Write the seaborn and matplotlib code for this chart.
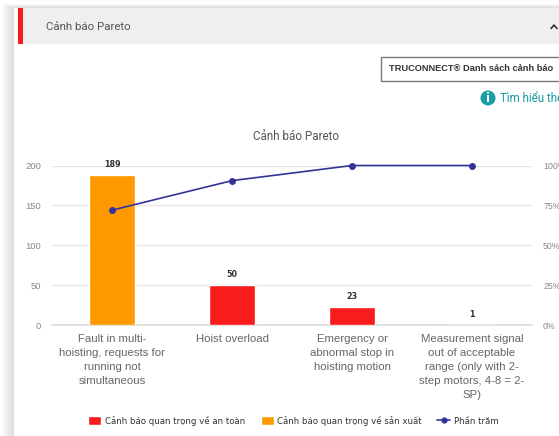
#!/usr/bin/env python3

import pandas as pd
import matplotlib
matplotlib.use("Agg")
import matplotlib.pyplot as plt
from matplotlib.lines import Line2D
from matplotlib.patches import Circle, Rectangle
import seaborn as sns

# =========================================================
# Values
# =========================================================
categories = [
    "Fault in multi-\nhoisting, requests for\nrunning not\nsimultaneous",
    "Hoist overload",
    "Emergency or\nabnormal stop in\nhoisting motion",
    "Measurement signal\nout of acceptable\nrange (only with 2-\nstep motors, 4-8 = 2-\nSP)",
]
severity = [
    "Cảnh báo quan trọng về sản xuất",
    "Cảnh báo quan trọng về an toàn",
    "Cảnh báo quan trọng về an toàn",
    "Cảnh báo quan trọng về an toàn",
]
bar_heights = [188, 50, 22, 0]
count_labels = ["189", "50", "23", "1"]
percent_values = [72, 90.5, 100, 100]

y_ticks = [0, 50, 100, 150, 200]
percent_ticks = [0, 25, 50, 75, 100]

RED = "#fa1c1c"
ORANGE = "#ff9900"
NAVY = "#333399"
TEAL = "#1a9ba5"
W, H = 559, 436

sns.set_theme(style="white")
plt.rcParams["font.family"] = ["Open Sans", "DejaVu Sans"]

df = pd.DataFrame({"alarm": categories, "severity": severity, "count": bar_heights})

fig = plt.figure(figsize=(W / 100, H / 100), dpi=100, facecolor="white")


def box(x, y, w, h, **kw):
    # Page furniture, given in pixels from the top left corner
    fig.add_artist(Rectangle((x / W, 1 - (y + h) / H), w / W, h / H,
                             transform=fig.transFigure, linewidth=kw.pop("lw", 0),
                             zorder=-5, **kw))


# =========================================================
# Card with its soft shadow and the header strip
# =========================================================
for i in range(12):
    box(2 + i, 4 + i / 3, W, H, facecolor="#000000", alpha=0.012)
box(14, 8, W, H, facecolor="white")
box(18, 8, W, 36, facecolor="#efefef")
box(18, 8, 4.5, 36, facecolor=RED)
fig.text(46 / W, 1 - 27 / H, "Cảnh báo Pareto", fontsize=8.2, color="#555555",
         family=["Roboto", "DejaVu Sans"], va="center")
fig.add_artist(Line2D([551 / W, 554 / W, 557 / W],
                      [1 - 28.5 / H, 1 - 25 / H, 1 - 28.5 / H],
                      color="#222222", lw=1.1))

box(380.5, 57, 200, 24, facecolor="white", edgecolor="#777777", lw=1)
fig.text(389 / W, 1 - 68.5 / H, "TRUCONNECT® Danh sách cảnh báo", fontsize=6.7,
         color="#333333", fontweight="bold", va="center",
         family=["Liberation Sans", "DejaVu Sans"])

fig.add_artist(Circle((4.88, (H - 98) / 100), 0.075, facecolor=TEAL,
                      edgecolor="none", transform=fig.dpi_scale_trans))
fig.text(488 / W, 1 - 98 / H, "i", color="white", fontsize=8.5, fontweight="bold",
         ha="center", va="center", family=["DejaVu Sans"])
fig.text(500 / W, 1 - 99 / H, "Tìm hiểu thêm", color=TEAL, fontsize=8.3, va="center",
         family=["Roboto", "DejaVu Sans"])

# =========================================================
# Bars and the percentage line
# =========================================================
ax = fig.add_axes([52 / W, 1 - 325 / H, 480 / W, 159.5 / H])
ax.patch.set_alpha(0)

sns.barplot(
    data=df, x="alarm", y="count", hue="severity", order=categories,
    palette={severity[0]: ORANGE, severity[1]: RED},
    dodge=False, width=0.38, saturation=1, legend=False, ax=ax, zorder=3,
)

ax.set_ylim(0, 200)
ax.set_yticks(y_ticks)
ax.set_xlim(-0.5, 3.5)
ax.set_xlabel("")
ax.set_ylabel("")
ax.grid(axis="y", color="#e6e6e6", linewidth=1, zorder=0)
ax.set_axisbelow(True)
sns.despine(ax=ax, left=True, right=True, top=True)
ax.spines["bottom"].set_color("#dddddd")
ax.tick_params(axis="y", length=0, labelsize=6.8, labelcolor="#888888", pad=8)
ax.tick_params(axis="x", length=0, labelsize=8.2, labelcolor="#666666", pad=6.5)
for label in ax.get_xticklabels():
    label.set_fontfamily(["Liberation Sans", "DejaVu Sans"])
    label.set_linespacing(1.5)
for label in ax.get_yticklabels():
    label.set_fontfamily(["Liberation Sans", "DejaVu Sans"])

for i, text in enumerate(count_labels):
    ax.annotate(text, (i, bar_heights[i]), xytext=(0, 11), textcoords="offset pixels",
                ha="center", va="center", fontsize=5.8, fontweight="bold", color="#333333",
                family=["DejaVu Sans"], zorder=6)

ax2 = ax.twinx()
ax2.patch.set_alpha(0)
sns.lineplot(x=list(range(len(categories))), y=percent_values, color=NAVY, linewidth=1.2,
             marker="o", markersize=5, markeredgewidth=0, clip_on=False, ax=ax2)
ax2.set_ylim(0, 100)
ax2.set_yticks(percent_ticks)
ax2.set_yticklabels([f"{p}%" for p in percent_ticks])
ax2.tick_params(axis="y", length=0, labelsize=6.3, labelcolor="#888888", pad=8)
for label in ax2.get_yticklabels():
    label.set_fontfamily(["Liberation Sans", "DejaVu Sans"])
sns.despine(ax=ax2, left=True, right=True, top=True, bottom=True)

fig.text(296 / W, 1 - 136 / H, "Cảnh báo Pareto", fontsize=8.4, color="#555555",
         ha="center", va="center", family=["Roboto", "DejaVu Sans"])

# =========================================================
# Legend
# =========================================================
handles = [
    Rectangle((0, 0), 1, 1, facecolor=RED),
    Rectangle((0, 0), 1, 1, facecolor=ORANGE),
    Line2D([0], [0], color=NAVY, lw=1.2, marker="o", markersize=4.5, markeredgewidth=0),
]
fig.legend(
    handles, [severity[1], severity[0], "Phần trăm"],
    ncol=3, frameon=False, loc="center", bbox_to_anchor=(293.5 / W, 1 - 420.5 / H),
    prop={"family": ["DejaVu Sans"], "size": 6.25, "weight": "normal"},
    labelcolor="#333333", handlelength=1.5, handleheight=1.3,
    handletextpad=0.45, columnspacing=1.75,
)

fig.savefig("out.png", dpi=100)
